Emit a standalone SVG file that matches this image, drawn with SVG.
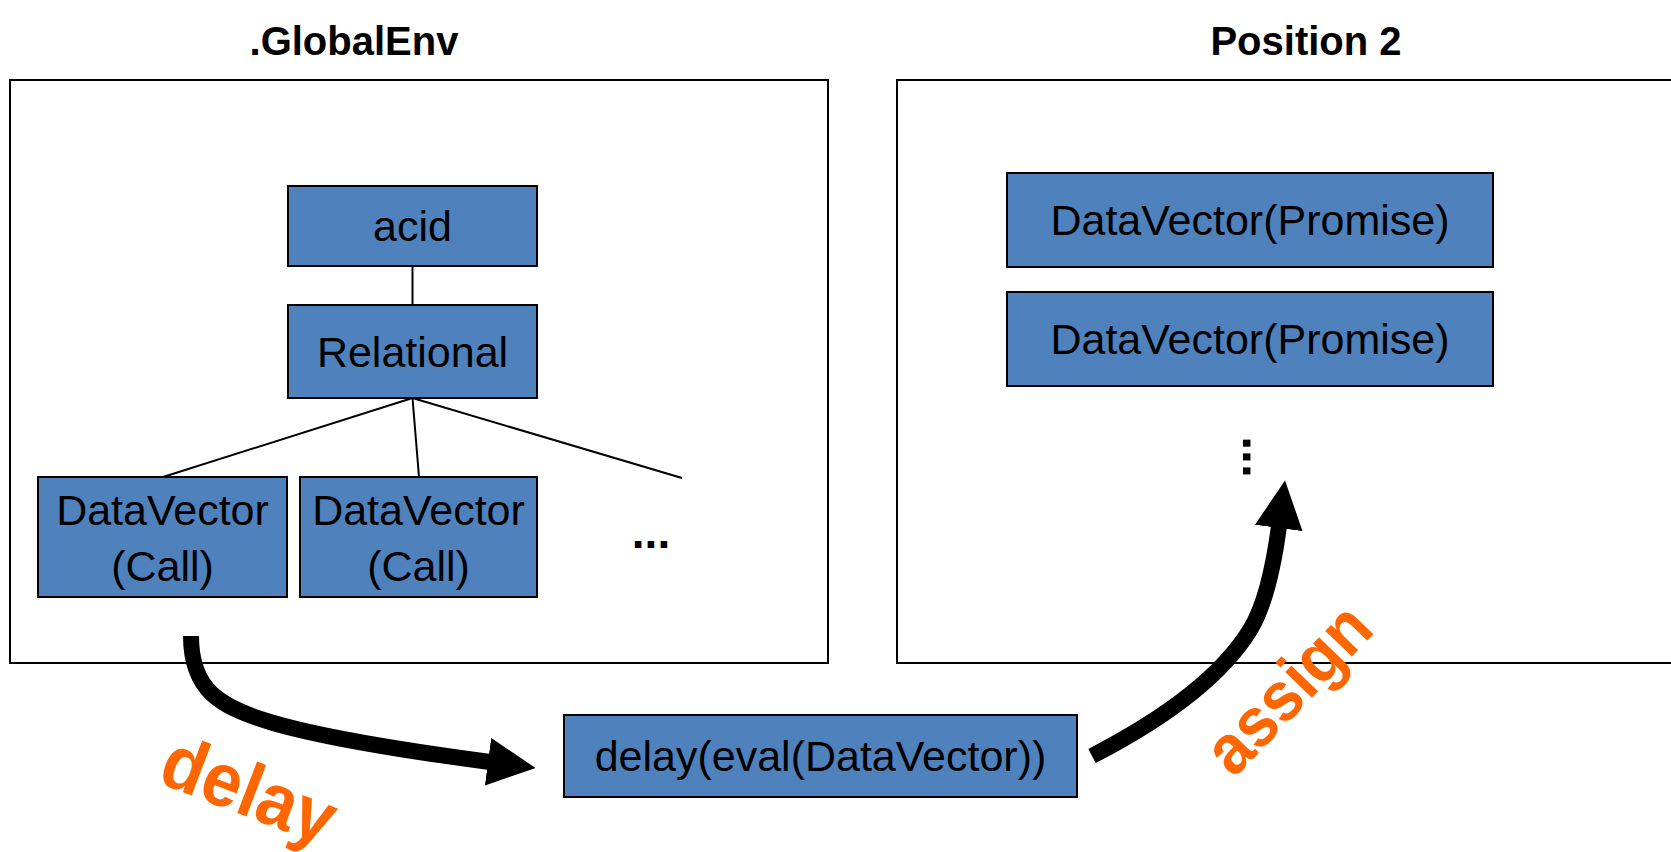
<svg xmlns="http://www.w3.org/2000/svg" width="1671" height="852" viewBox="0 0 1671 852">
  <style>
    .frame { fill: none; stroke: #000; stroke-width: 2; }
    .node rect { fill: #4F81BD; stroke: #000; stroke-width: 2; }
    .node text { font-family: "Liberation Sans", Arial, sans-serif; font-size: 43px; fill: #000; text-anchor: middle; }
    .dots { font-family: "Liberation Sans", Arial, sans-serif; font-weight: bold; fill: #000; text-anchor: middle; }
    .title { font-family: "Liberation Sans", Arial, sans-serif; font-size: 40px; font-weight: bold; fill: #000; text-anchor: middle; }
    .tree { fill: none; stroke: #000; stroke-width: 2; }
    .flow { fill: none; stroke: #000; stroke-width: 16; marker-end: url(#head); }
    .verb { font-family: "Liberation Sans", Arial, sans-serif; font-weight: bold; fill: #FF6600; text-anchor: middle; }
  </style>
  <defs>
    <marker id="head" markerUnits="userSpaceOnUse" viewBox="0 0 48 48" refX="2" refY="24" markerWidth="48" markerHeight="48" orient="auto">
      <path d="M0,0 L48,24 L0,48 z" fill="#000"/>
    </marker>
  </defs>

  <rect width="1671" height="852" fill="#fff"/>

  <!-- environment frames -->
  <g id="globalenv">
    <text class="title" x="354" y="55">.GlobalEnv</text>
    <rect class="frame" x="10" y="80" width="818" height="583"/>
  </g>
  <g id="position2">
    <text class="title" x="1306" y="55">Position 2</text>
    <rect class="frame" x="897" y="80" width="800" height="583"/>
  </g>

  <!-- tree edges and flow arrows -->
  <g id="connectors">
    <line class="tree" x1="412.5" y1="266" x2="412.5" y2="305"/>
    <line class="tree" x1="412.5" y1="398" x2="163" y2="477"/>
    <line class="tree" x1="412.5" y1="398" x2="419" y2="477"/>
    <line class="tree" x1="412.5" y1="398" x2="682" y2="478"/>
    <path id="delay-arrow" class="flow" d="M191,636 C191,690 220,707 270,722 Q335,741.5 490,762"/>
    <path id="assign-arrow" class="flow" d="M1092,756 Q1210,695 1250,630 Q1269.4,598.5 1279,526"/>
  </g>

  <g id="acid" class="node">
    <rect x="288" y="186" width="249" height="80"/>
    <text x="412.5" y="241">acid</text>
  </g>
  <g id="relational" class="node">
    <rect x="288" y="305" width="249" height="93"/>
    <text x="412.5" y="367">Relational</text>
  </g>
  <g id="datavector-call-1" class="node">
    <rect x="38" y="477" width="249" height="120"/>
    <text x="162.5" y="525">DataVector</text>
    <text x="162.5" y="581">(Call)</text>
  </g>
  <g id="datavector-call-2" class="node">
    <rect x="300" y="477" width="237" height="120"/>
    <text x="418.5" y="525">DataVector</text>
    <text x="418.5" y="581">(Call)</text>
  </g>
  <g id="more-calls">
    <text class="dots" x="651" y="548" font-size="46">...</text>
  </g>

  <g id="promise-1" class="node">
    <rect x="1007" y="173" width="486" height="94"/>
    <text x="1250" y="235">DataVector(Promise)</text>
  </g>
  <g id="promise-2" class="node">
    <rect x="1007" y="292" width="486" height="94"/>
    <text x="1250" y="354">DataVector(Promise)</text>
  </g>
  <g id="more-promises">
    <!-- ellipsis turned upright, centred on the dot column -->
    <text class="dots" x="1242.5" y="457" font-size="50" transform="rotate(90 1242.5 457)">...</text>
  </g>

  <g id="delay-eval" class="node">
    <rect x="564" y="715" width="513" height="82"/>
    <text x="820.5" y="771">delay(eval(DataVector))</text>
  </g>

  <!-- step labels -->
  <text class="verb" font-size="76" x="240" y="814" textLength="180" lengthAdjust="spacingAndGlyphs" transform="rotate(21 240 814)">delay</text>
  <text class="verb" font-size="70" x="1305" y="705" textLength="205" lengthAdjust="spacingAndGlyphs" transform="rotate(-46 1305 705)">assign</text>
</svg>
